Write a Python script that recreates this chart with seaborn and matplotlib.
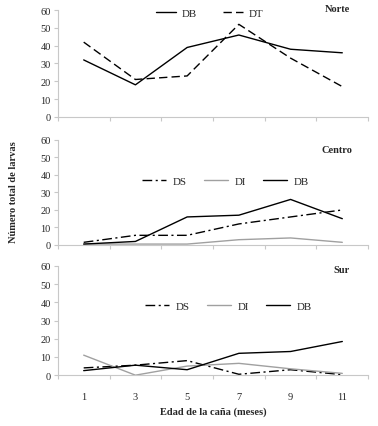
import numpy as np
import pandas as pd
import matplotlib
matplotlib.use("Agg")
import matplotlib.pyplot as plt
import seaborn as sns

# Datos
edades = ["1", "3", "5", "7", "9", "11"]

norte_db = [32, 18, 39, 46, 38, 36]
norte_dt = [42, 21, 23, 52, 33, 17]

centro_ds = [1.5, 5.5, 5.5, 12, 16, 20]
centro_di = [0.5, 0.5, 0.5, 3, 4, 1.5]
centro_db = [0.5, 2, 16, 17, 26, 15]

sur_ds = [4, 5.5, 8, 0.5, 3, 0.3]
sur_di = [11, 0, 5, 6.5, 3.5, 1]
sur_db = [2.5, 5.5, 3, 12, 13, 18.5]

sns.set_style("white")
plt.rcParams['font.family'] = ['Liberation Serif', 'DejaVu Serif']

estilos = {
    "DB": dict(color="black", linestyle="-"),
    "DT": dict(color="black", linestyle=(0, (6, 3))),
    "DS": dict(color="black", linestyle=(0, (7, 2.5, 1.5, 2.5))),
    "DI": dict(color="#a0a0a0", linestyle="-"),
}

# nombre, series, posicion de ejes, posicion leyenda, largo de linea, espacio, posicion del nombre
paneles = [
    ("Norte", [("DB", norte_db), ("DT", norte_dt)], [0.153, 0.724, 0.821, 0.250],
     (0.49, 0.97), 1.8, 2.4, (0.94, 1.015)),
    ("Centro", [("DS", centro_ds), ("DI", centro_di), ("DB", centro_db)], [0.153, 0.424, 0.821, 0.246],
     (0.54, 0.61), 2.2, 1.6, (0.95, 0.91)),
    ("Sur", [("DS", sur_ds), ("DI", sur_di), ("DB", sur_db)], [0.153, 0.119, 0.821, 0.256],
     (0.55, 0.63), 2.2, 1.6, (0.94, 0.97)),
]

fig = plt.figure(figsize=(3.78, 4.27), dpi=100)

gris = "#c8c8c8"
for i, (nombre, series, pos, leg_pos, hlen, cspace, npos) in enumerate(paneles):
    ax = fig.add_axes(pos)
    filas = []
    for etiqueta, valores in series:
        for e, v in zip(edades, valores):
            filas.append({"edad": e, "valor": v, "serie": etiqueta})
    df = pd.DataFrame(filas)
    for etiqueta, _ in series:
        sub = df[df["serie"] == etiqueta]
        sns.lineplot(data=sub, x="edad", y="valor", ax=ax, label=etiqueta,
                     linewidth=1.0, sort=False, **estilos[etiqueta])

    ax.set_ylim(0, 60)
    ax.set_yticks(range(0, 61, 10))
    ax.set_xlim(-0.5, len(edades) - 0.5)
    ax.set_xticks(range(len(edades)))
    ax.set_xticks(np.arange(-0.5, len(edades), 1.0), minor=True)
    ax.tick_params(axis="x", which="both", bottom=True)
    ax.tick_params(axis="x", which="major", length=0, labelsize=7.5, pad=12)
    ax.tick_params(axis="x", which="minor", length=3, color=gris, width=0.8)
    ax.tick_params(axis="y", left=True, length=3, color=gris, width=0.8, labelsize=7.5, pad=2)
    if i < 2:
        ax.set_xticklabels([])
    ax.set_xlabel("")
    ax.set_ylabel("")
    for s in ["top", "right"]:
        ax.spines[s].set_visible(False)
    for s in ["left", "bottom"]:
        ax.spines[s].set_color(gris)
        ax.spines[s].set_linewidth(0.8)

    ax.text(npos[0], npos[1], nombre, transform=ax.transAxes,
            ha="right", va="center", fontsize=7.5, fontweight="bold")

    ax.legend(loc="center", bbox_to_anchor=leg_pos, ncol=len(series), frameon=False,
              fontsize=7.8, handlelength=hlen, columnspacing=cspace, handletextpad=0.6)

fig.text(0.037, 0.55, "Número total de larvas", rotation=90, ha="center", va="center",
         fontsize=7.5, fontweight="bold")
fig.text(0.563, 0.035, "Edad de la caña (meses)", ha="center", va="center",
         fontsize=7.5, fontweight="bold")

fig.savefig("out.png", dpi=100)
